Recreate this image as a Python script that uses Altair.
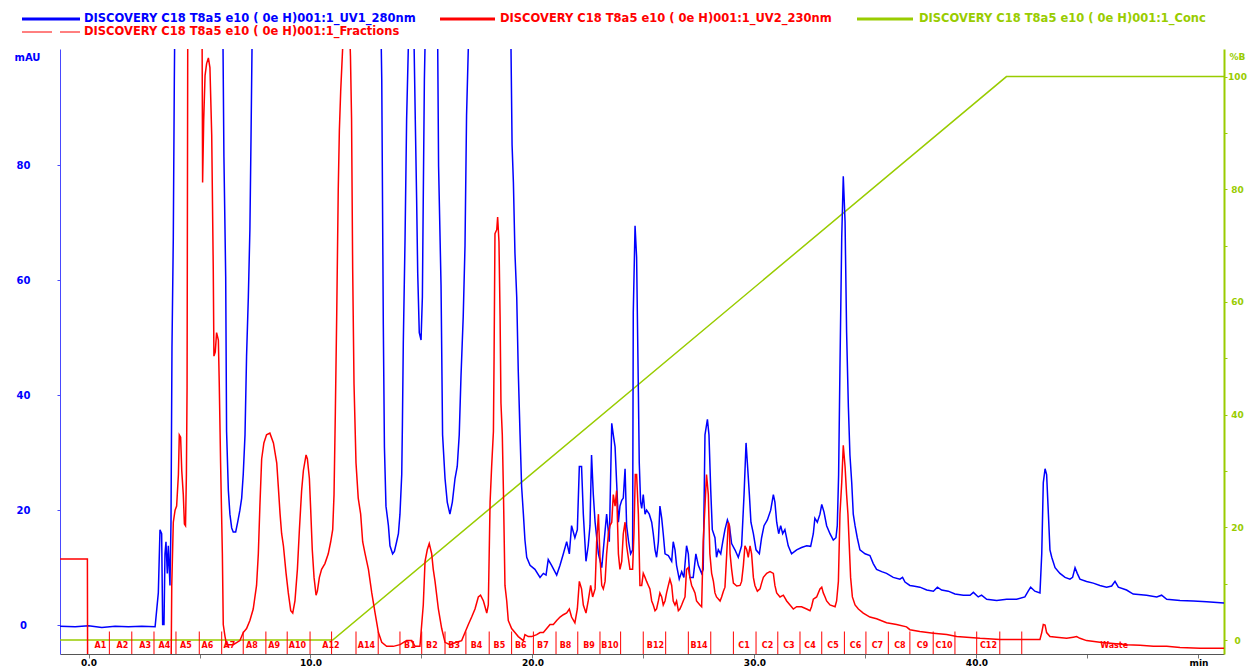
import altair as alt
import pandas as pd

# ---------------- data ----------------
# UV1 280 nm (blue)
blue_t = [-1.28, -0.6, 0.0, 0.6, 1.2, 1.8, 2.4, 3.0, 3.145, 3.22, 3.295, 3.34, 3.40, 3.445, 3.49, 3.55,
          3.595, 3.67, 3.716, 3.76, 3.82, 3.866, 3.90, 4.3, 5.0, 5.8, 6.05, 6.10, 6.18, 6.22, 6.30, 6.37,
          6.45, 6.52, 6.63, 6.72, 6.82, 6.90, 6.97, 7.05, 7.12, 7.20, 7.27, 7.32, 7.37, 8.0, 10.0, 12.5,
          13.15, 13.21, 13.28, 13.33, 13.40, 13.51, 13.58, 13.70, 13.78, 13.88, 13.96, 14.03, 14.11, 14.14,
          14.18, 14.26, 14.33, 14.41, 14.5, 14.62, 14.67, 14.72, 14.78, 14.83, 14.90, 14.98, 15.04, 15.08,
          15.13, 15.17, 15.4, 15.65, 15.73, 15.77, 15.88, 15.95, 16.06, 16.16, 16.28, 16.39, 16.51, 16.61,
          16.70, 16.78, 16.88, 16.96, 17.03, 17.12, 17.6, 18.5, 18.95, 19.03, 19.08, 19.14, 19.21, 19.29,
          19.36, 19.44, 19.51, 19.59, 19.66, 19.74, 19.89, 20.11, 20.34, 20.49, 20.61, 20.71, 20.86, 21.09,
          21.24, 21.39, 21.54, 21.66, 21.76, 21.91, 22.02, 22.11, 22.21, 22.29, 22.41, 22.51, 22.59, 22.66,
          22.74, 22.82, 22.97, 23.12, 23.24, 23.34, 23.46, 23.57, 23.64, 23.72, 23.79, 23.87, 23.94, 24.02,
          24.09, 24.17, 24.24, 24.33, 24.42, 24.51, 24.54, 24.62, 24.69, 24.77, 24.81, 24.87, 24.92, 24.99,
          25.07, 25.14, 25.26, 25.37, 25.44, 25.52, 25.59, 25.67, 25.74, 25.82, 25.89, 25.97, 26.12, 26.27,
          26.34, 26.42, 26.49, 26.61, 26.72, 26.82, 26.94, 27.02, 27.09, 27.24, 27.36, 27.47, 27.62, 27.69,
          27.77, 27.88, 27.95, 28.03, 28.10, 28.22, 28.29, 28.37, 28.48, 28.57, 28.67, 28.78, 28.87, 28.97,
          29.12, 29.27, 29.42, 29.53, 29.62, 29.69, 29.77, 29.84, 29.95, 30.07, 30.22, 30.32, 30.43, 30.58,
          30.73, 30.85, 30.92, 31.00, 31.09, 31.18, 31.27, 31.37, 31.52, 31.67, 31.90, 32.12, 32.35, 32.53,
          32.65, 32.72, 32.83, 32.95, 33.03, 33.13, 33.25, 33.40, 33.55, 33.67, 33.73, 33.79, 33.85, 33.93,
          34.00, 34.08, 34.15, 34.23, 34.30, 34.38, 34.45, 34.53, 34.63, 34.75, 34.98, 35.20, 35.35, 35.50,
          35.73, 35.95, 36.25, 36.55, 36.67, 36.78, 37.0, 37.15, 37.45, 37.76, 38.06, 38.24, 38.43, 38.73,
          39.03, 39.41, 39.71, 39.86, 40.08, 40.23, 40.46, 40.91, 41.36, 41.81, 42.18, 42.33, 42.44, 42.63,
          42.86, 42.94, 43.01, 43.09, 43.16, 43.24, 43.31, 43.39, 43.54, 43.76, 43.99, 44.21, 44.33, 44.44,
          44.54, 44.66, 44.96, 45.26, 45.56, 45.86, 46.09, 46.24, 46.39, 46.76, 47.06, 47.66, 48.12, 48.34,
          48.57, 49.17, 49.77, 50.37, 51.15]
blue_v = [-0.2, -0.3, -0.1, -0.4, -0.2, -0.3, -0.2, -0.3, 5.6, 16.6, 15.9, 0.1, 0.1, 12.4, 14.5, 9.0,
          13.8, 6.9, 17.9, 48.2, 67.4, 94.9, 110, 160, 200, 160, 105, 81.5, 60.6, 33.7, 23.4, 19.3,
          16.9, 16.2, 16.2, 17.9, 20.0, 22.1, 26.2, 33.1, 46.8, 57.1, 68.8, 84.6, 102, 180, 250, 180,
          110, 95, 52.3, 31.0, 20.7, 17.3, 13.8, 12.4, 12.8, 14.5, 15.9, 19.3, 26.2, 34.8,
          48.9, 67.4, 88.0, 101, 115, 108, 100, 88.0, 74.3, 61.2, 50.9, 49.6, 57.1, 74.3,
          94.9, 103, 130, 115, 101, 79.8, 59.2, 33.1, 25.5, 21.4, 19.3, 21.4, 25.5, 27.6,
          33.1, 43.4, 53.7, 66.0, 88.7, 102, 160, 170, 115, 101, 83.6, 77.0, 64.7, 57.1,
          44.1, 33.1, 24.1, 19.3, 14.8, 11.8, 10.4, 9.7, 8.3, 9.0, 8.7, 11.4, 10.4, 8.7,
          10.4, 12.4, 14.5, 12.4, 17.3, 15.2, 16.6, 27.6, 27.6, 19.3, 11.1, 13.8, 17.3, 29.6,
          22.7, 17.9, 12.4, 10.0, 15.2, 19.3, 14.5, 35.1, 33.1, 31.0, 24.8, 17.9, 20.7, 21.7,
          22.1, 27.2, 17.3, 14.5, 12.4, 13.1, 54.4, 69.5, 64.0, 40.6, 28.2, 21.4, 20.3, 22.7,
          19.3, 20.0, 19.3, 17.9, 15.9, 13.1, 11.8, 14.5, 20.7, 18.6, 15.9, 12.4, 12.1, 11.1,
          14.5, 13.1, 10.4, 8.0, 9.3, 8.3, 13.8, 12.4, 8.3, 8.3, 12.4, 10.4, 9.0, 9.7,
          33.1, 35.8, 33.1, 23.4, 16.6, 15.2, 11.8, 13.1, 12.4, 14.5, 16.6, 18.3, 17.3, 14.2,
          13.1, 11.8, 13.8, 22.7, 31.7, 27.6, 22.7, 17.9, 15.9, 13.1, 12.4, 15.2, 17.3, 18.3,
          20.0, 22.7, 21.4, 17.9, 15.9, 17.3, 15.9, 16.6, 13.8, 12.4, 13.1, 13.5, 13.8, 13.7,
          15.9, 18.6, 17.9, 19.3, 21.0, 19.7, 17.3, 15.9, 14.8, 15.2, 17.3, 26.2, 44.7, 67.4,
          78.1, 70.2, 50.9, 37.9, 29.6, 24.8, 19.3, 17.3, 15.2, 13.1, 12.4, 12.1, 10.7, 9.7,
          9.3, 9.0, 8.3, 8.0, 8.3, 7.5, 6.9, 6.8, 6.6, 6.1, 5.9, 6.6, 6.1, 5.9,
          5.4, 5.2, 5.2, 5.7, 4.9, 5.2, 4.5, 4.3, 4.5, 4.5, 4.9, 5.9, 6.6, 5.9,
          5.6, 12.4, 24.8, 27.2, 26.2, 19.3, 13.1, 11.8, 10.0, 9.0, 8.3, 8.0, 8.3, 10.0,
          9.0, 8.0, 7.6, 7.3, 6.9, 6.6, 6.8, 7.6, 6.6, 6.1, 5.4, 5.2, 4.9, 5.2,
          4.5, 4.3, 4.2, 4.05, 3.85]

# UV2 230 nm (red)
red_t = [-1.28, -0.05, -0.04, 3.72, 3.75, 3.82, 3.90, 3.97, 4.05, 4.09, 4.15, 4.20, 4.27, 4.32, 4.37, 4.41,
         4.44, 4.47, 4.7, 5.0, 5.11, 5.14, 5.19, 5.25, 5.32, 5.40, 5.47, 5.55, 5.62, 5.65, 5.71, 5.77,
         5.85, 5.89, 5.95, 6.03, 6.07, 6.15, 6.22, 6.52, 6.82, 6.97, 7.12, 7.27, 7.42, 7.57, 7.65, 7.72,
         7.80, 7.90, 8.02, 8.17, 8.33, 8.48, 8.55, 8.63, 8.70, 8.78, 8.90, 9.00, 9.11, 9.20, 9.30, 9.41,
         9.50, 9.60, 9.68, 9.80, 9.86, 9.95, 10.01, 10.08, 10.16, 10.25, 10.31, 10.40, 10.50, 10.65, 10.80,
         10.91, 11.00, 11.06, 11.12, 11.18, 11.25, 11.30, 11.36, 11.45, 11.52, 11.75, 11.80, 11.85, 11.90,
         11.96, 12.05, 12.15, 12.26, 12.35, 12.46, 12.61, 12.76, 12.91, 13.06, 13.21, 13.43, 13.73, 14.03,
         14.33, 14.56, 14.71, 14.93, 15.08, 15.16, 15.26, 15.35, 15.46, 15.53, 15.61, 15.76, 15.91, 16.06,
         16.28, 16.58, 16.81, 16.96, 17.11, 17.26, 17.41, 17.56, 17.66, 17.79, 17.94, 18.01, 18.09, 18.16,
         18.24, 18.27, 18.31, 18.39, 18.43, 18.49, 18.54, 18.58, 18.64, 18.69, 18.76, 18.84, 18.91, 19.06,
         19.21, 19.36, 19.59, 19.66, 19.81, 19.96, 20.19, 20.34, 20.49, 20.64, 20.79, 20.94, 21.09, 21.24,
         21.39, 21.54, 21.66, 21.76, 21.91, 22.02, 22.11, 22.21, 22.29, 22.41, 22.51, 22.62, 22.71, 22.82,
         22.89, 22.97, 23.04, 23.12, 23.19, 23.27, 23.34, 23.42, 23.49, 23.57, 23.64, 23.72, 23.79, 23.87,
         23.94, 24.02, 24.09, 24.17, 24.24, 24.39, 24.51, 24.57, 24.63, 24.69, 24.77, 24.84, 24.92, 24.99,
         25.07, 25.14, 25.22, 25.29, 25.37, 25.44, 25.52, 25.59, 25.67, 25.74, 25.82, 25.89, 25.97, 26.04,
         26.12, 26.19, 26.27, 26.34, 26.42, 26.49, 26.57, 26.64, 26.72, 26.79, 26.87, 26.94, 27.02, 27.09,
         27.17, 27.24, 27.32, 27.39, 27.54, 27.62, 27.69, 27.77, 27.84, 27.92, 27.99, 28.07, 28.15, 28.22,
         28.29, 28.45, 28.52, 28.60, 28.67, 28.75, 28.82, 28.87, 28.90, 28.97, 29.05, 29.20, 29.35, 29.42,
         29.50, 29.57, 29.65, 29.72, 29.80, 29.87, 29.95, 30.02, 30.13, 30.25, 30.32, 30.40, 30.55, 30.70,
         30.85, 30.92, 31.00, 31.15, 31.30, 31.45, 31.60, 31.75, 31.90, 32.12, 32.35, 32.50, 32.57, 32.65,
         32.80, 32.95, 33.03, 33.10, 33.18, 33.25, 33.40, 33.63, 33.70, 33.78, 33.85, 33.93, 34.00, 34.08,
         34.15, 34.21, 34.27, 34.33, 34.41, 34.53, 34.68, 34.90, 35.20, 35.50, 35.95, 36.40, 36.85, 37.0,
         37.45, 38.06, 38.66, 39.11, 39.56, 40.16, 41.06, 41.96, 42.86, 42.94, 43.01, 43.09, 43.16, 43.31,
         43.61, 44.06, 44.36, 44.51, 44.66, 44.96, 45.56, 46.16, 46.76, 47.37, 47.97, 48.57, 49.17, 50.07,
         51.15]
red_v = [11.5, 11.5, -8, -8, 6.9, 17.9, 20.0, 20.7, 26.2, 33.1, 32.7, 26.9, 22.7, 17.6, 17.3, 26.2,
         41.3, 101, 150, 140, 110, 77.0, 88.0, 95.6, 97.7, 98.7, 97.0, 85.3, 61.9, 46.8, 47.5, 50.9,
         49.6, 42.0, 28.2, 12.4, 0.1, -2.0, -3.4, -3.4, -2.7, -1.3, -0.6, 0.8, 2.8, 6.9, 12.4, 20.7,
         28.9, 31.7, 33.1, 33.4, 31.7, 28.2, 24.1, 19.3, 15.9, 13.8, 9.0, 5.6, 2.5, 2.1, 4.2, 9.7,
         16.6, 23.4, 26.9, 29.6, 28.9, 25.5, 20.0, 13.1, 8.3, 5.2, 5.9, 8.3, 9.7, 10.7, 12.4,
         14.5, 16.6, 22.7, 37.2, 53.7, 75.7, 86.0, 92.9, 100.5, 105, 105, 99, 88.0, 61.9,
         42.0, 28.2, 22.1, 19.3, 14.5, 12.4, 9.7, 5.6, 2.1, -1.3, -3.0, -3.7, -3.7, -3.4,
         -2.7, -2.7, -3.7, -3.7, 3.5, 11.1, 13.1, 14.2, 12.4, 9.7, 7.6, 2.8, -0.6, -3.0,
         -3.4, -3.0, -2.7, -1.3, 0.1, 1.4, 2.8, 4.9, 5.2, 4.2, 2.1, 3.5, 21.4, 27.6,
         33.7, 46.8, 68.1, 68.8, 71.0, 66.7, 53.7, 38.6, 33.1, 23.4, 6.9, 4.2, 0.8, -0.6,
         -1.3, -2.0, -2.7, -1.65, -2.0, -2.0, -1.65, -1.3, -1.3, -0.6, 0.1, 0.1, 0.8, 1.4,
         1.8, 2.1, 2.8, 1.4, 0.4, 2.8, 7.6, 6.3, 3.5, 2.1, 4.2, 6.9, 4.9, 6.3,
         14.5, 19.3, 11.8, 6.9, 6.3, 7.6, 12.4, 15.9, 17.3, 17.9, 22.7, 20.7, 23.4, 12.4,
         9.7, 11.1, 15.9, 17.9, 13.8, 9.7, 9.7, 15.9, 26.2, 26.2, 19.3, 6.9, 6.9, 9.0,
         8.3, 7.6, 6.9, 6.3, 4.2, 3.5, 2.5, 2.8, 4.2, 5.6, 4.9, 3.5, 4.2, 5.6,
         6.9, 8.0, 6.9, 4.2, 3.5, 4.2, 2.5, 2.8, 3.5, 4.2, 4.9, 9.7, 10.0, 8.3,
         6.9, 6.3, 5.6, 4.2, 3.5, 3.2, 14.5, 20.7, 26.2, 22.7, 12.4, 9.0, 7.6, 5.6,
         4.9, 4.2, 4.9, 5.9, 6.6, 12.4, 17.9, 17.3, 12.4, 9.7, 7.3, 6.8, 6.9, 7.6,
         10.4, 13.8, 13.1, 11.8, 13.8, 12.4, 8.3, 6.9, 5.9, 6.3, 7.3, 8.3, 9.0, 9.3,
         9.0, 6.9, 5.6, 4.9, 5.2, 4.2, 3.5, 2.8, 3.2, 3.2, 2.8, 2.5, 3.2, 4.5,
         4.9, 6.3, 6.6, 5.6, 4.9, 4.2, 3.5, 3.2, 4.2, 7.6, 19.3, 24.8, 31.3, 27.6,
         22.7, 19.3, 13.8, 8.3, 4.9, 3.5, 2.8, 2.1, 1.4, 1.1, 0.4, 0.1, -0.3, -0.8,
         -1.1, -1.4, -1.65, -2.0, -2.1, -2.3, -2.5, -2.5, -2.5, -1.3, 0.1, 0.0, -1.3, -2.0,
         -2.1, -2.3, -2.1, -2.0, -2.3, -2.7, -3.0, -3.2, -3.4, -3.5, -3.7, -3.7, -3.9, -4.05,
         -4.05]

# Conc %B (green)
conc_t = [-1.28, 11.0, 41.35, 51.15]
conc_v = [0, 0, 100, 100]

# Fraction boundaries (min) and labels
frac_t = [0.94, 1.95, 2.95, 3.94, 4.99, 6.0, 6.97, 7.99, 8.95, 9.98, 10.95, 12.05, 13.05, 14.03,
          15.01, 16.06, 17.0, 18.05, 19.06, 20.04, 21.06, 22.04, 23.04, 23.97, 24.99, 26.0, 27.02,
          28.03, 29.05, 30.07, 31.05, 32.05, 33.03, 34.05, 35.02, 36.03, 37.0, 38.05, 39.03, 40.01,
          41.05, 42.04]
frac_label_t = [0.54, 1.53, 2.55, 3.42, 4.39, 5.36, 6.35, 7.36, 8.36, 9.41, 10.92, 12.52, 14.48,
                15.47, 16.47, 17.48, 18.51, 19.47, 20.47, 21.49, 22.55, 23.49, 25.54, 27.5, 29.53,
                30.59, 31.55, 32.5, 33.54, 34.55, 35.54, 36.55, 37.57, 38.54, 40.54, 46.2]
frac_labels = ["A1", "A2", "A3", "A4", "A5", "A6", "A7", "A8", "A9", "A10", "A12", "A14", "B1",
               "B2", "B3", "B4", "B5", "B6", "B7", "B8", "B9", "B10", "B12", "B14", "C1",
               "C2", "C3", "C4", "C5", "C6", "C7", "C8", "C9", "C10", "C12", "Waste"]

legend_names = ["DISCOVERY C18 T8a5 e10 ( 0e H)001:1_UV1_280nm",
                "DISCOVERY C18 T8a5 e10 ( 0e H)001:1_UV2_230nm",
                "DISCOVERY C18 T8a5 e10 ( 0e H)001:1_Conc",
                "DISCOVERY C18 T8a5 e10 ( 0e H)001:1_Fractions"]

# ---------------- styling ----------------
BLUE = "#0000FF"
RED = "#FF0000"
GREEN = "#99CC00"
FONT = "DejaVu Sans"
L, T = 60, 49          # plot origin in page pixels
W, H = 1164, 605

df_blue = pd.DataFrame({"t": blue_t, "v": blue_v})
df_red = pd.DataFrame({"t": red_t, "v": red_v})
df_conc = pd.DataFrame({"t": conc_t, "c": conc_v})
df_frac = pd.DataFrame({"t": frac_t})
df_flab = pd.DataFrame({"t": frac_label_t, "label": frac_labels})
one = pd.DataFrame({"k": [0]})

xs = alt.Scale(domain=[-1.284, 51.15], nice=False, zero=False)
ys = alt.Scale(domain=[-5.03, 100.24], nice=False, zero=False)
bs = alt.Scale(domain=[-2.48, 104.9], nice=False, zero=False)

x_axis = alt.Axis(values=list(range(0, 51, 5)),
                  labelExpr="datum.value == 50 ? 'min' : (datum.value % 10 == 0 ? format(datum.value, '.1f') : '')",
                  title=None, grid=False, domainColor="#555555", tickColor="#777777", tickSize=4,
                  labelColor="#000000", labelFont=FONT, labelFontSize=9, labelFontWeight="bold",
                  labelPadding=0, labelFlush=False, labelOverlap=False)
y_axis = alt.Axis(values=[0, 20, 40, 60, 80], format="d", title="mAU", titleAngle=0, titleX=-33,
                  titleY=8, titleAlign="center", titleBaseline="middle", titleColor=BLUE,
                  titleFont=FONT, titleFontSize=10, titleFontWeight="bold",
                  labelAlign="center", labelBaseline="middle", labelPadding=34, tickSize=3,
                  domainColor="#4848FF", tickColor="#4848FF", labelColor=BLUE, labelFont=FONT,
                  labelFontSize=10, labelFontWeight="bold", grid=False)
b_axis = alt.Axis(orient="right", values=list(range(0, 101, 10)),
                  labelExpr="datum.value % 20 == 0 ? datum.label : ''", title="%B", titleAngle=0,
                  titleX=13, titleY=7, titleAlign="center", titleBaseline="middle", titleColor=GREEN,
                  titleFont=FONT, titleFontSize=9, titleFontWeight="bold",
                  labelAlign="center", labelBaseline="middle", labelPadding=10, tickSize=3,
                  domainColor=GREEN, domainWidth=2, tickColor=GREEN, labelColor=GREEN, labelFont=FONT,
                  labelFontSize=9, labelFontWeight="bold", grid=False)

X = alt.X("t:Q", scale=xs, axis=x_axis)

green = alt.Chart(df_conc).mark_line(color=GREEN, strokeWidth=1.5, clip=True).encode(
    x=X, y=alt.Y("c:Q", scale=bs, axis=b_axis))
blue = alt.Chart(df_blue).mark_line(color=BLUE, strokeWidth=1.5, clip=True).encode(
    x=X, y=alt.Y("v:Q", scale=ys, axis=y_axis))
red = alt.Chart(df_red).mark_line(color=RED, strokeWidth=1.5, clip=True).encode(
    x=X, y=alt.Y("v:Q", scale=ys, axis=None))
frac_rules = alt.Chart(df_frac).mark_rule(color=RED, strokeWidth=1).encode(
    x=X, y=alt.value(631.5 - T), y2=alt.value(654 - T))
frac_text = alt.Chart(df_flab).mark_text(color=RED, font=FONT, fontSize=8, fontWeight="bold",
                                         baseline="middle", align="center").encode(
    x=X, y=alt.value(646 - T), text="label:N")


def leg_line(x1, x2, y, color, width, **kw):
    return alt.Chart(one).mark_rule(color=color, strokeWidth=width, **kw).encode(
        x=alt.value(x1 - L), x2=alt.value(x2 - L), y=alt.value(y - T))


def leg_text(x, y, txt, color):
    return alt.Chart(one).mark_text(text=txt, color=color, font=FONT, fontSize=11.5, fontWeight="bold",
                                    align="left", baseline="middle").encode(
        x=alt.value(x - L), y=alt.value(y - T))


legend = [
    leg_line(22, 80, 19, BLUE, 3), leg_text(84, 19, legend_names[0], BLUE),
    leg_line(440, 495, 19, RED, 3), leg_text(500, 19, legend_names[1], RED),
    leg_line(857, 913, 19, GREEN, 3), leg_text(919, 19, legend_names[2], GREEN),
    leg_line(22, 80, 32, RED, 1, strokeDash=[30, 8]), leg_text(84, 32, legend_names[3], RED),
]

chart = alt.layer(green, blue, red, frac_rules, frac_text, *legend).resolve_scale(
    y="independent"
).properties(
    width=W, height=H,
    autosize=alt.AutoSizeParams(type="none"),
    padding={"left": L, "top": T, "right": 1251 - L - W, "bottom": 668 - T - H},
    background="white",
).configure_view(stroke=None)

chart.save("out.html", embed_options={"renderer": "svg", "actions": False})
